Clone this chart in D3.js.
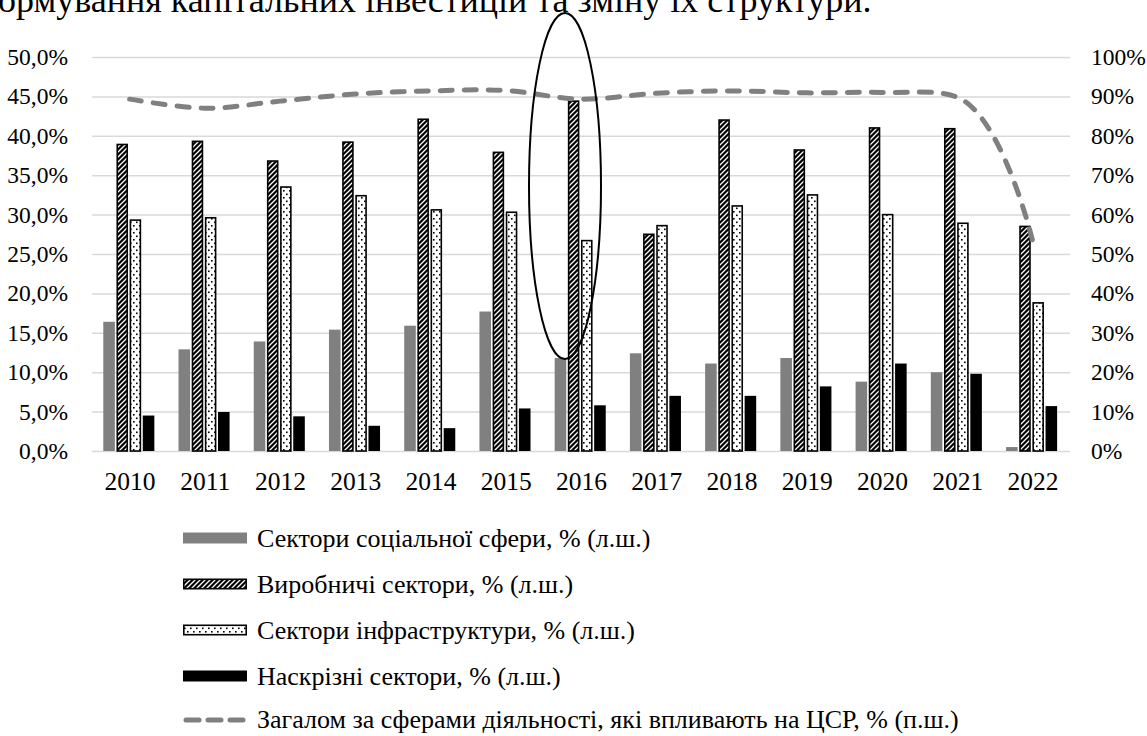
<!DOCTYPE html>
<html lang="uk">
<head>
<meta charset="utf-8">
<script src="https://cdn.jsdelivr.net/npm/d3@7"></script>
<style>
  html, body { margin: 0; padding: 0; background: #fff; }
  svg { display: block; }
  svg text { font-family: "Liberation Serif", "Times New Roman", serif; }
</style>
</head>
<body>
<svg id="chart" width="1147" height="736"></svg>
<script>
// Роки
const years = ["2010","2011","2012","2013","2014","2015","2016","2017","2018","2019","2020","2021","2022"];
// Частки секторів, % (ліва шкала)
const social         = [16.4, 12.9, 13.9, 15.4, 15.9, 17.7, 11.8, 12.4, 11.1, 11.8, 8.8, 10.0, 0.5];
const production     = [39.0, 39.4, 36.9, 39.3, 42.2, 38.0, 44.5, 27.6, 42.1, 38.3, 41.1, 41.0, 28.6];
const infrastructure = [29.4, 29.7, 33.6, 32.5, 30.7, 30.4, 26.8, 28.7, 31.2, 32.6, 30.1, 29.0, 18.9];
const crossCutting   = [4.5, 4.95, 4.4, 3.2, 2.9, 5.4, 5.8, 7.0, 7.0, 8.2, 11.1, 9.8, 5.7];
// Загалом за сферами діяльності, % (права шкала)
const totalShare     = [89.3, 87.0, 88.8, 90.6, 91.4, 91.5, 89.3, 90.8, 91.4, 90.9, 91.0, 89.8, 53.6];

const leftTicks  = [0, 5, 10, 15, 20, 25, 30, 35, 40, 45, 50];
const rightTicks = [0, 10, 20, 30, 40, 50, 60, 70, 80, 90, 100];

const seriesNames = [
  "Сектори соціальної сфери, % (л.ш.)",
  "Виробничі сектори, % (л.ш.)",
  "Сектори інфраструктури, % (л.ш.)",
  "Наскрізні сектори, % (л.ш.)"
];
const lineName = "Загалом за сферами діяльності, які впливають на ЦСР, % (п.ш.)";
const headingText = "ормування капітальних інвестицій та зміну їх структури.";

const series = [
  { key: "social", values: social, fill: "#808080", outline: false },
  { key: "production", values: production, fill: "url(#hatch)", outline: true },
  { key: "infrastructure", values: infrastructure, fill: "url(#dots)", outline: true },
  { key: "crossCutting", values: crossCutting, fill: "#000000", outline: false }
];

const FONT = '"Liberation Serif", "Times New Roman", serif';
const svg = d3.select("#chart");
const plotLeft = 92, plotRight = 1070, plotTop = 57, plotBottom = 451;

// Візерунки заливки
const defs = svg.append("defs");
const hatch = defs.append("pattern").attr("id", "hatch")
  .attr("patternUnits", "userSpaceOnUse").attr("width", 5).attr("height", 5);
hatch.append("rect").attr("width", 5).attr("height", 5).attr("fill", "#000");
hatch.append("path").attr("d", "M-1,1 l2,-2 M0,5 l5,-5 M4,6 l2,-2")
  .attr("stroke", "#fff").attr("stroke-width", 1.3);

const dots = defs.append("pattern").attr("id", "dots")
  .attr("patternUnits", "userSpaceOnUse").attr("width", 6).attr("height", 7);
dots.append("rect").attr("width", 6).attr("height", 7).attr("fill", "#fff");
dots.append("rect").attr("x", 1).attr("y", 1).attr("width", 1.6).attr("height", 1.6).attr("fill", "#000");
dots.append("rect").attr("x", 4).attr("y", 4.5).attr("width", 1.6).attr("height", 1.6).attr("fill", "#000");

// Рядок тексту над діаграмою
svg.append("text")
  .attr("x", -2).attr("y", 12)
  .style("font-family", FONT).style("font-size", "36px").attr("fill", "#000")
  .text(headingText);

// Шкали
const x = d3.scaleBand().domain(years).range([plotLeft, plotRight]).paddingInner(0.3).paddingOuter(0.15);
const x1 = d3.scaleBand().domain(series.map(s => s.key)).range([0, x.bandwidth()]);
const y = d3.scaleLinear().domain([0, 50]).range([plotBottom, plotTop]);
const y2 = d3.scaleLinear().domain([0, 100]).range([plotBottom, plotTop]);
const xCenter = d3.scalePoint().domain(years).range([plotLeft, plotRight]).padding(0.5);

// Сітка
const grid = svg.append("g").attr("transform", `translate(${plotLeft},0)`)
  .call(d3.axisLeft(y).tickValues(leftTicks).tickSize(-(plotRight - plotLeft)).tickFormat(""));
grid.select(".domain").remove();
grid.selectAll("line").attr("stroke", "#d9d9d9").attr("stroke-width", 1.5);

// Ліва вісь
const fmtLeft = v => d3.format(".1f")(v).replace(".", ",") + "%";
const yAxis = svg.append("g").attr("transform", `translate(${plotLeft},0)`)
  .call(d3.axisLeft(y).tickValues(leftTicks).tickSize(0).tickPadding(24).tickFormat(fmtLeft));
yAxis.select(".domain").remove();
yAxis.attr("font-family", null).attr("font-size", null);
yAxis.selectAll("text").style("font-family", FONT).style("font-size", "23.5px").attr("fill", "#000");

// Права вісь
const yAxis2 = svg.append("g").attr("transform", `translate(${plotRight},0)`)
  .call(d3.axisRight(y2).tickValues(rightTicks).tickSize(0).tickPadding(21).tickFormat(v => v + "%"));
yAxis2.select(".domain").remove();
yAxis2.attr("font-family", null).attr("font-size", null);
yAxis2.selectAll("text").style("font-family", FONT).style("font-size", "23.5px").attr("fill", "#000");

// Вісь категорій
const xAxis = svg.append("g").attr("transform", `translate(0,${plotBottom})`)
  .call(d3.axisBottom(xCenter).tickSize(0).tickPadding(21));
xAxis.select(".domain").remove();
xAxis.attr("font-family", null).attr("font-size", null);
xAxis.selectAll("text").style("font-family", FONT).style("font-size", "25.5px").attr("fill", "#000");

// Стовпці
const groups = svg.append("g").selectAll("g")
  .data(series).join("g");
groups.each(function(s) {
  const g = d3.select(this);
  const w = x1.bandwidth() - 1.6;
  g.selectAll("rect").data(years.map((yr, i) => ({ yr, v: s.values[i] }))).join("rect")
    .attr("x", d => x(d.yr) + x1(s.key) + (s.outline ? 0.8 : 0))
    .attr("y", d => y(d.v) + (s.outline ? 0.8 : 0))
    .attr("width", s.outline ? w - 1.6 : w)
    .attr("height", d => Math.max(0, plotBottom - y(d.v) - (s.outline ? 0.8 : 0)))
    .attr("fill", s.fill)
    .attr("stroke", s.outline ? "#000" : "none")
    .attr("stroke-width", s.outline ? 1.6 : 0);
});

// Лінія загальної частки
const line = d3.line()
  .x((d, i) => xCenter(years[i]))
  .y(d => y2(d))
  .curve(d3.curveCatmullRom.alpha(1));
svg.append("path").datum(totalShare)
  .attr("d", line)
  .attr("fill", "none")
  .attr("stroke", "#808080")
  .attr("stroke-width", 5)
  .attr("stroke-linecap", "round")
  .attr("stroke-dasharray", "12,12");

// Виділення 2016 року
svg.append("ellipse")
  .attr("cx", 565).attr("cy", 186).attr("rx", 36).attr("ry", 173)
  .attr("fill", "none").attr("stroke", "#000").attr("stroke-width", 2);

// Легенда
const legendRows = [538, 584, 630, 676, 720];
const legend = svg.append("g");
series.forEach((s, i) => {
  const cy = legendRows[i];
  legend.append("rect")
    .attr("x", s.outline ? 183.8 : 183).attr("y", cy - 5.5 + (s.outline ? 0.8 : 0))
    .attr("width", s.outline ? 62.4 : 64).attr("height", s.outline ? 9.4 : 11)
    .attr("fill", s.fill)
    .attr("stroke", s.outline ? "#000" : "none")
    .attr("stroke-width", s.outline ? 1.6 : 0);
  legend.append("text")
    .attr("x", 257).attr("y", cy).attr("dy", "0.35em")
    .style("font-family", FONT).style("font-size", "26px").attr("fill", "#000")
    .text(seriesNames[i]);
});
legend.append("line")
  .attr("x1", 183).attr("x2", 247)
  .attr("y1", legendRows[4]).attr("y2", legendRows[4])
  .attr("stroke", "#808080").attr("stroke-width", 5)
  .attr("stroke-linecap", "round").attr("stroke-dasharray", "13,9")
  .attr("stroke-dashoffset", -3);
legend.append("text")
  .attr("x", 257).attr("y", legendRows[4]).attr("dy", "0.32em")
  .style("font-family", FONT).style("font-size", "26px").attr("fill", "#000")
  .text(lineName);
</script>
</body>
</html>
